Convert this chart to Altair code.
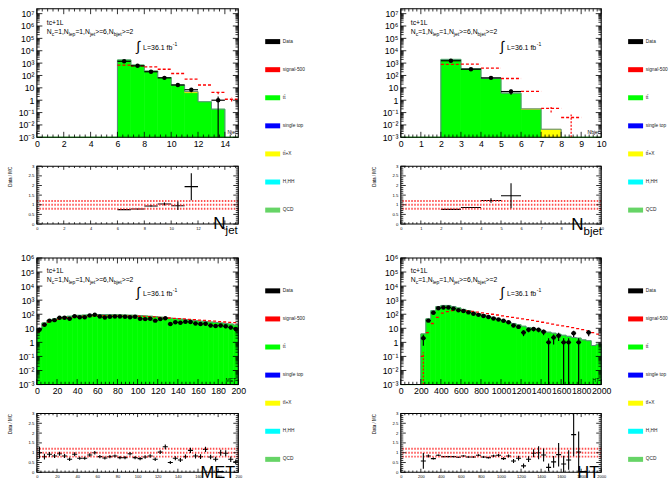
import math
import altair as alt
import pandas as pd

FONT = "Liberation Sans"
FLOOR = 1e-3
GREEN = "#00ff00"
YELLOW = "#ffff00"
RED = "#ff0000"
OUTLINE = "#5b8c7c"

# ---------------- N_jet (bin width 1) ----------------
njet_lo = [0, 1, 2, 3, 4, 5, 6, 7, 8, 9, 10, 11, 12, 13, 14]
njet_tt = [0, 0, 0, 0, 0, 0, 1800, 700, 230, 68, 17, 4.0, 0.75, 0.19, 0]
njet_ttx = [0, 0, 0, 0, 0, 0, 0, 0, 0, 0, 0, 1.0, 0, 0, 0]
njet_data = [0, 0, 0, 0, 0, 0, 1400, 600, 200, 64, 17, 7, 0, 1, 0]
njet_sig = [0, 0, 0, 0, 0, 0, 680, 600, 500, 320, 145, 50, 17, 4.3, 1.2]
njet_sig_err = [0, 0, 0, 0, 0, 0, 0, 0, 0, 0, 0, 0, 0, 1.2, 0.4]
njet_ratio = [None, None, None, None, None, None, 0.75, 0.78, 0.94, 1.04, 0.95, 1.94, None, None, None]
njet_ratio_err = [None, None, None, None, None, None, 0.01, 0.02, 0.03, 0.08, 0.22, 0.7, None, None, None]

# ---------------- N_bjet (bin width 1) ----------------
nbjet_lo = [0, 1, 2, 3, 4, 5, 6, 7, 8, 9]
nbjet_tt = [0, 0, 2000, 360, 58, 3.7, 0.18, 0, 0, 0]
nbjet_ttx = [0, 0, 0, 0, 0, 0, 0.02, 0.0045, 0, 0]
nbjet_data = [0, 0, 1550, 320, 64, 5, 0, 0, 0, 0]
nbjet_sig = [0, 0, 780, 820, 390, 57, 5.1, 0.22, 0.04, 0]
nbjet_sig_err = [0, 0, 0, 0, 0, 0, 0, 0.12, 0.04, 0]
nbjet_ratio = [None, None, 0.76, 0.86, 1.22, 1.47, None, None, None, None]
nbjet_ratio_err = [None, None, 0.01, 0.02, 0.12, 0.65, None, None, None, None]

# ---------------- MET (bin width 5) ----------------
met_lo = list(range(0, 200, 5))
met_tt = [9.5, 24, 38, 46, 57, 65, 72, 78, 84, 88,
          92, 94, 95, 95, 94, 92, 90, 88, 86, 84,
          80, 76, 72, 68, 62, 57, 52, 48, 45, 42,
          38, 35, 32, 30, 28, 26, 24, 22, 20, 17]
met_data = [8, 18, 35, 38, 56, 56, 48, 72, 62, 62,
            81, 91, 69, 59, 66, 69, 69, 66, 62, 66,
            48, 45, 47, 35, 45, 52, 20, 27, 25, 29,
            28, 22, 20, 21, 16, 14.5, 16, 14, 11.5, 9]
met_sig = [5.5, 16, 28, 36, 45, 52, 58, 63, 68, 72,
           75, 77, 78, 79, 79, 79, 78, 77, 76, 74,
           72, 70, 67, 64, 60, 57, 54, 51, 48, 46,
           43, 41, 38, 36, 34, 32, 30, 28, 26, 25]
met_ttx = [0, 0, 0, 0, 0, 0, 0, 0, 0, 0,
           0, 0, 0, 0, 0, 0, 0, 0, 0, 0,
           0, 0, 0, 0, 0, 0, 0, 0, 0, 0,
           0, 0, 0, 0, 0, 0, 0, 0, 0, 0]
met_sig_err = met_ttx
met_ratio = [1.0, 0.8, 0.92, 0.83, 0.95, 0.83, 0.67, 0.92, 0.72, 0.72,
             0.88, 1.0, 0.8, 0.73, 0.8, 0.83, 0.75, 0.75, 0.95, 0.75,
             0.70, 0.78, 0.83, 0.67, 1.03, 1.3, 0.5, 0.72, 0.63, 0.8,
             1.12, 0.83, 0.8, 1.17, 0.78, 0.67, 1.0, 0.97, 0.67, 0.53]
met_ratio_err = [0.3, 0.15, 0.12, 0.1, 0.1, 0.1, 0.09, 0.1, 0.08, 0.08,
                 0.09, 0.09, 0.08, 0.08, 0.08, 0.08, 0.08, 0.08, 0.09, 0.08,
                 0.08, 0.09, 0.09, 0.09, 0.1, 0.12, 0.08, 0.1, 0.1, 0.11,
                 0.13, 0.12, 0.12, 0.14, 0.12, 0.12, 0.15, 0.15, 0.14, 0.12]

# ---------------- HT (bin width 50) ----------------
ht_lo = list(range(0, 2000, 50))
ht_tt = [0, 0, 0, 0, 4, 47, 180, 355, 420, 420,
         355, 280, 220, 180, 140, 112, 90, 70, 56, 45,
         35, 28, 22, 18, 14, 11, 9.5, 8, 6.3, 5.3,
         4.5, 3.8, 3.2, 2.7, 2.2, 2.0, 1.5, 1.3, 0.6, 0.75]
ht_ttx = met_ttx
ht_data = [0, 0, 0, 0, 2, 35, 126, 270, 300, 300,
           250, 190, 170, 135, 107, 90, 75, 63, 50, 42,
           34, 27, 16, 12.6, 5, 8, 9, 8, 5.6, 1,
           2.2, 3, 1, 1, 4.5, 1, 0, 5, 0, 0]
ht_sig = [0, 0, 0, 0, 0.1, 5, 22, 60, 120, 155,
          180, 195, 190, 175, 160, 142, 126, 112, 100, 88,
          76, 67, 59, 52, 46, 41, 36, 31, 27, 23,
          20, 17, 15, 13, 11, 9.5, 8, 6.5, 5, 3.8]
ht_sig_err = [0, 0, 0, 0, 0.1, 0, 0, 0, 0, 0,
              0, 0, 0, 0, 0, 0, 0, 0, 0, 0,
              0, 0, 0, 0, 0, 0, 0, 0, 0, 0,
              0, 0, 0, 0, 0, 0, 0, 0, 0, 0]
ht_ratio = [None, None, None, None, 0.58, 0.83, 0.70, 0.87, 0.8, 0.8,
            0.8, 0.77, 0.83, 0.78, 0.78, 0.87, 0.78, 0.75, 0.83, 0.87,
            0.70, 0.83, 0.58, 0.72, 0.33, 0.67, 0.97, 1.0, 0.88, 0.25,
            0.53, 0.9, 0.42, 0.63, 1.92, 1.03, None, None, None, None]
ht_ratio_err = [None, None, None, None, 0.4, 0.08, 0.05, 0.04, 0.03, 0.03,
                0.03, 0.03, 0.04, 0.04, 0.04, 0.05, 0.05, 0.05, 0.06, 0.07,
                0.07, 0.08, 0.1, 0.12, 0.12, 0.15, 0.2, 0.33, 0.33, 0.2,
                0.3, 0.6, 0.42, 0.5, 1.1, 1.05, None, None, None, None]

# ---------------- legend ----------------
legend_names = ["Data", "signal-500", "tt\u0304", "single top", "tt\u0304+X", "H,HH", "QCD"]
legend_colors = ["#000000", "#ff0000", "#00ff00", "#0000ff", "#ffff00", "#00ffff", "#66d466"]

# ---------------- layout ----------------
W_L, W_R = 202, 201
LEG_L, LEG_R = 163, 69
H_MAIN_T, H_RAT_T = 129, 58
H_MAIN_B, H_RAT_B = 127, 59
TOP_PAD_B = 5          # extra blank strip above the lower main plots (row gap 34 vs 29)
GAP = 29

ARIAL = {"N": 0.722, "c": 0.5, "=": 0.584, "1": 0.556, ",": 0.278, "l": 0.222, "e": 0.556,
         "p": 0.556, "j": 0.222, "t": 0.278, ">": 0.584, "6": 0.556, "2": 0.556, "b": 0.556,
         "L": 0.556, "3": 0.556, ".": 0.278, " ": 0.278, "f": 0.278}


def tw(s, size):
    return sum(ARIAL.get(ch, 0.556) for ch in s) * size


ONE = pd.DataFrame({"k": [0]})


def txt(s, x, y, size, align="left", baseline="middle"):
    return alt.Chart(ONE).mark_text(text=s, fontSize=size, font=FONT, align=align,
                                    baseline=baseline, color="black").encode(
        x=alt.value(x), y=alt.value(y))


SEGS = [("N", 0), ("c", 1), ("=1,", 0), ("N", 0), ("lep", 1), ("=1,", 0), ("N", 0),
        ("jet", 1), (">=6,", 0), ("N", 0), ("bjet", 1), (">=2", 0)]


def rich(segs, x0, y, size, subsize, subdy):
    out, x = [], x0
    for s, sub in segs:
        fs = subsize if sub else size
        out.append(txt(s, x, y + (subdy if sub else 0), fs))
        x += tw(s, fs)
    return out


def annotations(l1, l2, l3):
    lay = [txt("tc+1L", 10, l1, 6.8)]
    lay += rich(SEGS, 10, l2, 6.8, 5, 2.3)
    lay.append(txt("\u222b", 100, l3 - 1, 14))
    lay.append(txt("L=36.1 fb", 106.5, l3, 7))
    lay.append(txt("-1", 106.5 + tw("L=36.1 fb", 7) + 0.5, l3 - 4, 5))
    return lay


def lin_ticks(a, b, step):
    n = int(math.floor((b - a) / step + 1e-9))
    return [round(a + i * step, 9) for i in range(n + 1)]


def log_ticks(top):
    out = []
    for e in range(-3, 9):
        for k in range(1, 10):
            v = k * 10.0 ** e
            if v <= top * (1 + 1e-9):
                out.append(v)
    return out


LOG_LABEL = ("['10\u207b\u00b3','10\u207b\u00b2','10\u207b\u00b9','1','10','10\u00b2','10\u00b3',"
             "'10\u2074','10\u2075','10\u2076','10\u2077'][round(log(datum.value) / LN10) + 3]")


def frame_layers(X, Y, xmaj, xmin, ymaj, ymin, W, y0, y1, xlen, ylen):
    """Inward ROOT-style ticks on all four sides plus the frame box (y0 = top edge, y1 = bottom edge)."""
    out = []
    for vals, ln in ((ymaj, ylen[0]), (ymin, ylen[1])):
        d = pd.DataFrame({"v": vals})
        out.append(alt.Chart(d).mark_rule(color="black", strokeWidth=0.8).encode(
            y=Y("v"), x=alt.value(0), x2=alt.value(ln)))
        out.append(alt.Chart(d).mark_rule(color="black", strokeWidth=0.8).encode(
            y=Y("v"), x=alt.value(W), x2=alt.value(W - ln)))
    for vals, ln in ((xmaj, xlen[0]), (xmin, xlen[1])):
        d = pd.DataFrame({"v": vals})
        out.append(alt.Chart(d).mark_rule(color="black", strokeWidth=0.8).encode(
            x=X("v"), y=alt.value(y1), y2=alt.value(y1 - ln)))
        out.append(alt.Chart(d).mark_rule(color="black", strokeWidth=0.8).encode(
            x=X("v"), y=alt.value(y0), y2=alt.value(y0 + ln)))
    out.append(alt.Chart(ONE).mark_rect(filled=False, stroke="black", strokeWidth=1.1).encode(
        x=alt.value(0), x2=alt.value(W), y=alt.value(y0), y2=alt.value(y1)))
    return out


def make_enc(xs, ys, xax, yax):
    def X(f):
        return alt.X(f, type="quantitative", scale=xs, axis=xax)

    def Y(f):
        return alt.Y(f, type="quantitative", scale=ys, axis=yax)
    return X, Y


def main_panel(lo, bw, tt, ttx, data, sig, sig_err, xdom, xstep, xminor, ytop, W, H, y0, ann_y, xtitle):
    xs = alt.Scale(domain=list(xdom), nice=False, zero=False)
    ys = alt.Scale(type="log", domain=[FLOOR, ytop], nice=False, range=[y0 + H, y0])
    top_exp = int(math.floor(math.log10(ytop) + 1e-9))
    xmaj = lin_ticks(xdom[0], xdom[1], xstep)
    ymaj = [10.0 ** e for e in range(-3, top_exp + 1)]
    xax = alt.Axis(orient="bottom", values=xmaj, format="d", ticks=False, tickSize=0, domain=False,
                   grid=False, labelFontSize=8.8, labelPadding=2, labelFlush=False, labelOverlap=False,
                   title=None)
    yax = alt.Axis(orient="left", values=ymaj, labelExpr=LOG_LABEL, ticks=False, tickSize=0, domain=False,
                   grid=False, labelFontSize=8.8, labelPadding=3, labelOverlap=False, title=None)
    X, Y = make_enc(xs, ys, xax, yax)

    df = pd.DataFrame({"lo": lo, "tt": tt, "ttx": ttx, "data": data, "sig": sig, "serr": sig_err})
    df["hi"] = df["lo"] + bw
    df["c"] = df["lo"] + bw / 2.0
    df["fl"] = FLOOR
    df["tt_c"] = df["tt"].clip(lower=FLOOR)
    df["top"] = (df["tt"] + df["ttx"]).clip(lower=FLOOR)

    tops = list(df["top"])
    idx = [i for i, v in enumerate(tops) if v > FLOOR]
    i0, i1 = idx[0], idx[-1]
    ox, oy = [lo[i0]], [FLOOR]
    for i in range(i0, i1 + 1):
        ox += [lo[i], lo[i] + bw]
        oy += [tops[i], tops[i]]
    ox.append(lo[i1] + bw)
    oy.append(FLOOR)
    dout = pd.DataFrame({"x": ox, "y": oy, "o": list(range(len(ox)))})

    dyel = df[df["ttx"] > 0]
    dsig = df[df["sig"] > 0]
    dse = df[df["serr"] > 0].copy()
    dse["slo"] = (dse["sig"] - dse["serr"]).clip(lower=FLOOR)
    dse["shi"] = dse["sig"] + dse["serr"]
    dd = df[df["data"] > 0].copy()
    dd["dlo"] = (dd["data"] - dd["data"] ** 0.5).clip(lower=FLOOR)
    dd["dhi"] = dd["data"] + dd["data"] ** 0.5

    layers = [alt.Chart(df).mark_rect(fill=GREEN, stroke=GREEN, strokeWidth=0.6).encode(
        x=X("lo"), x2="hi", y=Y("tt_c"), y2="fl")]
    if len(dyel):
        layers.append(alt.Chart(dyel).mark_rect(fill=YELLOW, stroke="#e0c000", strokeWidth=0.4).encode(
            x=X("lo"), x2="hi", y=Y("top"), y2="tt_c"))
    layers += [
        alt.Chart(dout).mark_line(color=OUTLINE, strokeWidth=1).encode(
            x=X("x"), y=Y("y"), order="o:Q"),
        alt.Chart(dsig).mark_rule(color=RED, strokeDash=[3, 2], strokeWidth=1.3).encode(
            x=X("lo"), x2="hi", y=Y("sig")),
    ]
    if len(dse):
        layers.append(alt.Chart(dse).mark_rule(color=RED, strokeDash=[2, 1.5], strokeWidth=1.2).encode(
            x=X("c"), y=Y("slo"), y2="shi"))
    layers += [
        alt.Chart(dd).mark_rule(color="black", strokeWidth=1.2).encode(x=X("c"), y=Y("dlo"), y2="dhi"),
        alt.Chart(dd).mark_rule(color="black", strokeWidth=1.2).encode(x=X("lo"), x2="hi", y=Y("data")),
        alt.Chart(dd).mark_circle(color="black", size=20, opacity=1).encode(x=X("c"), y=Y("data")),
    ]
    layers += annotations(*[y0 + a for a in ann_y])
    layers.append(txt(xtitle, W - 2, y0 + H - 5, 5, align="right"))
    yminor = [v for v in log_ticks(ytop) if v not in ymaj]
    xminv = [v for v in lin_ticks(xdom[0], xdom[1], xminor) if v not in xmaj]
    layers += frame_layers(X, Y, xmaj, xminv, ymaj, yminor, W, y0, y0 + H, (5.5, 2.8), (5.5, 2.8))
    return alt.layer(*layers).properties(width=W, height=y0 + H)


def ratio_panel(lo, bw, ratio, rerr, xdom, xstep, xminor, W, H, title_layers):
    xs = alt.Scale(domain=list(xdom), nice=False, zero=False)
    ys = alt.Scale(domain=[0, 3], nice=False, zero=False)
    xmaj = lin_ticks(xdom[0], xdom[1], xstep)
    ymaj = lin_ticks(0, 3, 0.5)
    xax = alt.Axis(orient="bottom", values=xmaj, format="d", ticks=False,
                   tickSize=0, domain=False, grid=False, labelFontSize=4, labelPadding=2,
                   labelFlush=False, labelOverlap=False, title=None)
    yax = alt.Axis(orient="left", values=ymaj, format=".1~f", ticks=False, tickSize=0,
                   domain=False, grid=False, labelFontSize=4.3, labelPadding=3, labelOverlap=False,
                   title="Data / MC", titleFontSize=4.5, titleFontWeight="normal", titleX=-29, titleY=0,
                   titleAngle=270, titleAlign="right", titleBaseline="top")
    X, Y = make_enc(xs, ys, xax, yax)

    df = pd.DataFrame({"lo": lo, "r": ratio, "e": rerr}).dropna()
    df["hi"] = df["lo"] + bw
    df["c"] = df["lo"] + bw / 2.0
    df["rlo"] = df["r"] - df["e"]
    df["rhi"] = df["r"] + df["e"]
    refs = pd.DataFrame({"y": [0.8, 1.0, 1.2]})
    layers = [
        alt.Chart(df).mark_rule(color="black", strokeWidth=1.1, clip=True).encode(
            x=X("lo"), x2="hi", y=Y("r")),
        alt.Chart(refs).mark_rule(color="#ff3030", strokeDash=[1.5, 1.5], strokeWidth=2, opacity=0.85).encode(
            y=Y("y")),
        alt.Chart(df).mark_rule(color="black", strokeWidth=1.1, clip=True).encode(
            x=X("c"), y=Y("rlo"), y2="rhi"),
    ] + title_layers
    ymin = [v for v in lin_ticks(0, 3, 0.1) if v not in ymaj]
    xminv = [v for v in lin_ticks(xdom[0], xdom[1], xminor) if v not in xmaj]
    layers += frame_layers(X, Y, xmaj, xminv, ymaj, ymin, W, 0, H, (3.6, 1.8), (5, 2.5))
    return alt.layer(*layers).properties(width=W, height=H)


def legend_panel(W, H, y0):
    df = pd.DataFrame({"name": legend_names, "i": list(range(len(legend_names)))})
    y = alt.Y("i:Q", scale=alt.Scale(domain=[0, len(legend_names) - 1], range=[y0 + 33, y0 + 202]),
              axis=None)
    keys = alt.Chart(df).mark_rule(strokeWidth=5, strokeCap="butt").encode(
        x=alt.value(27), x2=alt.value(42), y=y,
        color=alt.Color("name:N", scale=alt.Scale(domain=legend_names, range=legend_colors), legend=None))
    labels = alt.Chart(df).mark_text(align="left", baseline="middle", fontSize=4.8, font=FONT,
                                     color="#222222").encode(x=alt.value(44.7), y=y, text="name:N")
    return alt.layer(keys, labels).properties(width=W, height=H)


def empty(W, H):
    return alt.Chart(ONE).mark_point(opacity=0).encode(x=alt.value(0), y=alt.value(0)).properties(
        width=W, height=H)


# ---------------- panels ----------------
njet_main = main_panel(njet_lo, 1, njet_tt, njet_ttx, njet_data, njet_sig, njet_sig_err,
                       (0, 15), 2, 0.4, 10 ** 7.4, W_L, H_MAIN_T, 0, (14.7, 23.3, 39), "Njet")
njet_rat = ratio_panel(njet_lo, 1, njet_ratio, njet_ratio_err, (0, 15), 2, 0.4, W_L, H_RAT_T,
                       [txt("N", 177, 63, 17, baseline="alphabetic"),
                        txt("jet", 177 + tw("N", 17), 68, 11.5, baseline="alphabetic")])
nbjet_main = main_panel(nbjet_lo, 1, nbjet_tt, nbjet_ttx, nbjet_data, nbjet_sig, nbjet_sig_err,
                        (0, 10), 1, 0.2, 10 ** 7.4, W_R, H_MAIN_T, 0, (14.7, 23.3, 39), "Nbjet")
nbjet_rat = ratio_panel(nbjet_lo, 1, nbjet_ratio, nbjet_ratio_err, (0, 10), 1, 0.2, W_R, H_RAT_T,
                        [txt("N", 171, 64, 17, baseline="alphabetic"),
                         txt("bjet", 171 + tw("N", 17), 69, 11.5, baseline="alphabetic")])
met_main = main_panel(met_lo, 5, met_tt, met_ttx, met_data, met_sig, met_sig_err,
                      (0, 200), 20, 4, 1e6, W_L, H_MAIN_B, TOP_PAD_B, (13.3, 22.3, 36), "MET")
met_rat = ratio_panel(met_lo, 5, met_ratio, met_ratio_err, (0, 200), 20, 4, W_L, H_RAT_B,
                      [txt("MET", 199, 65, 16.5, align="right", baseline="alphabetic")])
ht_main = main_panel(ht_lo, 50, ht_tt, ht_ttx, ht_data, ht_sig, ht_sig_err,
                     (0, 2000), 200, 40, 1e6, W_R, H_MAIN_B, TOP_PAD_B, (13.3, 22.3, 36), "HT")
ht_rat = ratio_panel(ht_lo, 50, ht_ratio, ht_ratio_err, (0, 2000), 200, 40, W_R, H_RAT_B,
                     [txt("HT", 199, 65, 16.5, align="right", baseline="alphabetic")])

cells = [
    njet_main, legend_panel(LEG_L, H_MAIN_T, 0), nbjet_main, legend_panel(LEG_R, H_MAIN_T, 0),
    njet_rat, empty(LEG_L, H_RAT_T), nbjet_rat, empty(LEG_R, H_RAT_T),
    met_main, legend_panel(LEG_L, H_MAIN_B + TOP_PAD_B, TOP_PAD_B), ht_main,
    legend_panel(LEG_R, H_MAIN_B + TOP_PAD_B, TOP_PAD_B),
    met_rat, empty(LEG_L, H_RAT_B), ht_rat, empty(LEG_R, H_RAT_B),
]

chart = alt.concat(*cells, columns=4, spacing={"row": GAP, "column": 0}, bounds="flush").properties(
    padding={"left": 7, "top": 6, "right": 0, "bottom": 0}
).configure_view(stroke="transparent").configure_axis(
    labelFont=FONT, titleFont=FONT, labelColor="black", titleColor="black"
).configure_text(font=FONT)

chart.save("out.html", embed_options={"renderer": "svg", "actions": False})
